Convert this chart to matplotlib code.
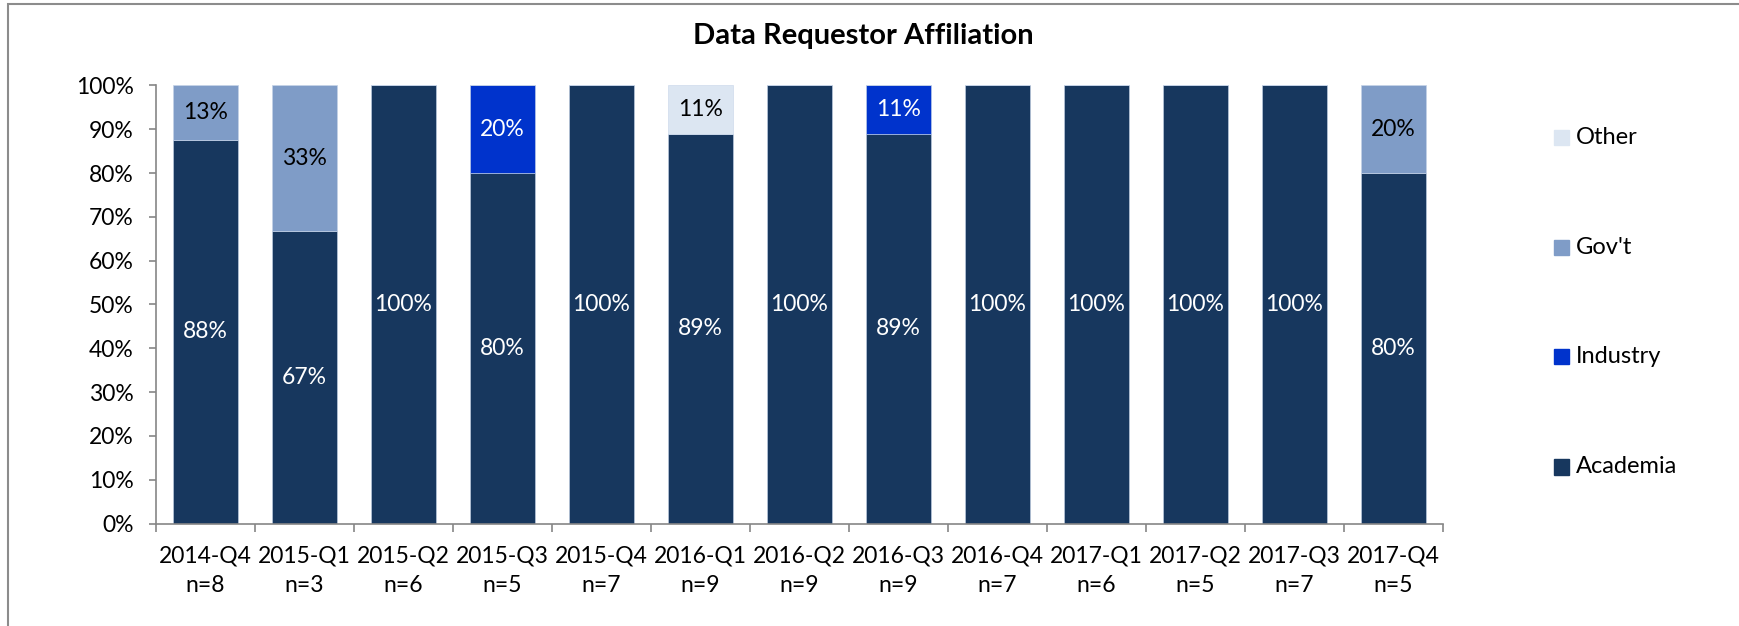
import numpy as np
import matplotlib.pyplot as plt
from matplotlib.patches import Rectangle

plt.rcParams['font.family'] = ['Lato', 'DejaVu Sans']

quarters = ["2014-Q4", "2015-Q1", "2015-Q2", "2015-Q3", "2015-Q4", "2016-Q1", "2016-Q2",
            "2016-Q3", "2016-Q4", "2017-Q1", "2017-Q2", "2017-Q3", "2017-Q4"]
counts = [8, 3, 6, 5, 7, 9, 9, 9, 7, 6, 5, 7, 5]

academia = [87.5, 66.7, 100, 80, 100, 88.9, 100, 88.9, 100, 100, 100, 100, 80]
industry = [0, 0, 0, 20, 0, 0, 0, 11.1, 0, 0, 0, 0, 0]
govt = [12.5, 33.3, 0, 0, 0, 0, 0, 0, 0, 0, 0, 0, 20]
other = [0, 0, 0, 0, 0, 11.1, 0, 0, 0, 0, 0, 0, 0]

series = [("Academia", academia, "#17375e", "white"),
          ("Industry", industry, "#0033cc", "white"),
          ("Gov't", govt, "#7f9cc7", "black"),
          ("Other", other, "#dce6f2", "black")]

fs = 16.5

fig = plt.figure(figsize=(17.39, 6.26), dpi=100)
ax = fig.add_axes([0.0897, 0.1637, 0.7401, 0.6999])

x = np.arange(len(quarters))
bottom = np.zeros(len(quarters))
for name, vals, col, tcol in series:
    vals = np.array(vals, dtype=float)
    ax.bar(x, vals, 0.66, bottom=bottom, color=col, edgecolor="#c6d4e8",
           linewidth=0.4, label=name)
    for xi, v, b0 in zip(x, vals, bottom):
        if v > 0:
            ax.text(xi, b0 + v / 2, f"{int(v + 0.5)}%", ha="center", va="center",
                    color=tcol, fontsize=fs)
    bottom += vals

ax.set_xlim(-0.5, len(quarters) - 0.5)
ax.set_ylim(0, 100)
ax.set_yticks(np.arange(0, 101, 10))
ax.set_yticklabels([f"{v}%" for v in range(0, 101, 10)])
ax.set_xticks(x)
ax.set_xticklabels([f"{q}\nn={n}" for q, n in zip(quarters, counts)], linespacing=1.5)
ax.set_xticks(np.arange(-0.5, len(quarters)), minor=True)
ax.tick_params(axis="x", which="major", length=0, pad=16, labelsize=fs)
ax.tick_params(axis="x", which="minor", length=6, color="#868686", width=1.2)
ax.tick_params(axis="y", length=5, color="#868686", width=1.2, labelsize=fs, pad=11)
for s in ["top", "right"]:
    ax.spines[s].set_visible(False)
for s in ["left", "bottom"]:
    ax.spines[s].set_color("#868686")
    ax.spines[s].set_linewidth(1.2)

fig.text(0.4965, 0.943, "Data Requestor Affiliation", ha="center", va="center",
         fontsize=21, fontweight="bold")

# legend, reversed order (Other on top)
leg_y = [0.781, 0.605, 0.430, 0.254]
for (name, vals, col, tcol), yy in zip(series[::-1], leg_y):
    fig.patches.append(Rectangle((0.8936, yy - 0.012), 0.0086, 0.024, color=col,
                                 transform=fig.transFigure))
    fig.text(0.9063, yy, name, ha="left", va="center", fontsize=17)

fig.patches.append(Rectangle((0.0046, -0.1), 1.1, 1.093, fill=False,
                             edgecolor="#8c8c8c", linewidth=1.5,
                             transform=fig.transFigure))

fig.savefig("out.png", dpi=100)
